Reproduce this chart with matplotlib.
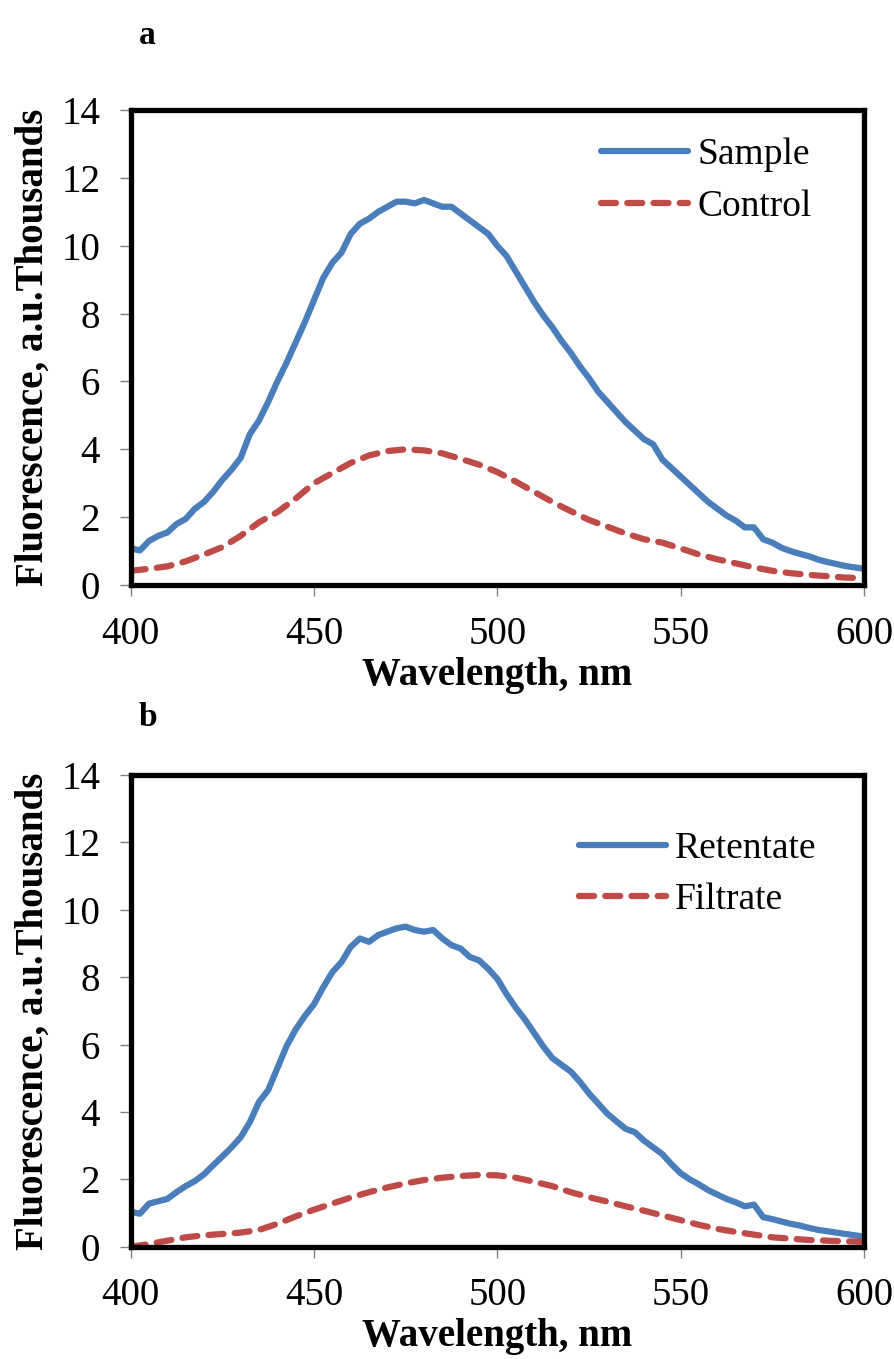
import numpy as np
import matplotlib
matplotlib.use('Agg')
import matplotlib.pyplot as plt

plt.rcParams['font.family'] = ['Liberation Serif', 'DejaVu Serif']

# wavelength grids (nm)
wl_fine = np.arange(400, 600.1, 2.5)
wl_coarse = np.arange(400, 600.1, 5)

# panel a, values in thousands
sample = [1.08, 1.02, 1.30, 1.45, 1.55, 1.80, 1.95, 2.25, 2.45, 2.75,
          3.10, 3.40, 3.75, 4.45, 4.85, 5.40, 6.00, 6.55, 7.15, 7.75,
          8.40, 9.05, 9.50, 9.80, 10.35, 10.65, 10.80, 11.00, 11.15, 11.30,
          11.30, 11.25, 11.35, 11.25, 11.15, 11.15, 10.95, 10.75, 10.55, 10.35,
          10.00, 9.70, 9.25, 8.80, 8.35, 7.95, 7.60, 7.20, 6.85, 6.45,
          6.10, 5.70, 5.40, 5.10, 4.80, 4.55, 4.30, 4.15, 3.70, 3.45,
          3.20, 2.95, 2.70, 2.45, 2.25, 2.05, 1.90, 1.70, 1.70, 1.35,
          1.25, 1.10, 1.00, 0.92, 0.85, 0.75, 0.68, 0.62, 0.56, 0.52, 0.48]
control = [0.42, 0.48, 0.55, 0.70, 0.90, 1.12, 1.45, 1.85, 2.15, 2.55,
           3.00, 3.30, 3.60, 3.82, 3.95, 4.00, 3.97, 3.88, 3.72, 3.55,
           3.33, 3.05, 2.75, 2.45, 2.18, 1.92, 1.72, 1.52, 1.35, 1.25,
           1.08, 0.90, 0.76, 0.64, 0.52, 0.42, 0.35, 0.30, 0.26, 0.22, 0.20]

# panel b
retentate = [1.04, 0.98, 1.28, 1.35, 1.42, 1.62, 1.80, 1.95, 2.15, 2.42,
             2.68, 2.95, 3.25, 3.70, 4.30, 4.65, 5.30, 5.95, 6.45, 6.85,
             7.20, 7.70, 8.15, 8.45, 8.90, 9.15, 9.05, 9.25, 9.35, 9.45,
             9.50, 9.40, 9.35, 9.40, 9.15, 8.95, 8.85, 8.60, 8.50, 8.25,
             7.95, 7.50, 7.10, 6.75, 6.35, 5.95, 5.60, 5.40, 5.20, 4.90,
             4.55, 4.25, 3.95, 3.72, 3.50, 3.40, 3.15, 2.95, 2.75, 2.45,
             2.18, 2.00, 1.85, 1.68, 1.55, 1.42, 1.32, 1.20, 1.25, 0.88,
             0.82, 0.75, 0.68, 0.63, 0.56, 0.50, 0.46, 0.42, 0.38, 0.34, 0.30]
filtrate = [0.00, 0.08, 0.18, 0.28, 0.34, 0.38, 0.42, 0.50, 0.68, 0.90,
            1.10, 1.28, 1.46, 1.62, 1.76, 1.88, 1.98, 2.05, 2.10, 2.13,
            2.12, 2.05, 1.93, 1.80, 1.62, 1.47, 1.34, 1.20, 1.07, 0.93,
            0.79, 0.65, 0.53, 0.44, 0.36, 0.28, 0.24, 0.20, 0.18, 0.16, 0.15]

blue = '#4A7EBB'
red = '#BE4B48'

fig = plt.figure(figsize=(8.94, 13.59), dpi=100)
ax_a = fig.add_axes([0.1462, 0.5695, 0.8202, 0.3495])
ax_b = fig.add_axes([0.1462, 0.0826, 0.8202, 0.3471])

panels = [
    (ax_a, sample, control, 'Sample', 'Control', (0.642, 0.851), 'a', 1 - 35 / 1359),
    (ax_b, retentate, filtrate, 'Retentate', 'Filtrate', (0.612, 0.79), 'b', 1 - 718 / 1359),
]

for ax, solid, dashed, lab1, lab2, leg_pos, letter, ly in panels:
    ax.plot(wl_fine, solid, color=blue, lw=4.5, label=lab1,
            solid_capstyle='round', solid_joinstyle='round')
    ax.plot(wl_coarse, dashed, color=red, lw=4.5, dashes=(2.4, 1.8),
            dash_capstyle='round', label=lab2)
    ax.set_xlim(400, 600)
    ax.set_ylim(0, 14)
    ax.set_xticks([400, 450, 500, 550, 600])
    ax.set_yticks(range(0, 15, 2))
    for s in ax.spines.values():
        s.set_linewidth(3.8)
        s.set_color('black')
    ax.tick_params(direction='out', length=8, width=1, color='#808080',
                   labelsize=28, pad=14)
    ax.set_xlabel('Wavelength, nm', fontsize=28, fontweight='bold', va='top')
    ax.set_ylabel('Fluorescence, a.u.Thousands', fontsize=28, fontweight='bold')
    ax.xaxis.set_label_coords(0.5, -0.152)
    ax.yaxis.set_label_coords(-0.108, 0.5)
    ax.legend(loc='center left', bbox_to_anchor=leg_pos, frameon=False,
              fontsize=27, handlelength=2.3, handletextpad=0.25,
              borderpad=0, borderaxespad=0, labelspacing=0.45)
    fig.text(0.155, ly, letter, fontsize=24, fontweight='bold', va='center')

fig.savefig('out.png', dpi=100)
